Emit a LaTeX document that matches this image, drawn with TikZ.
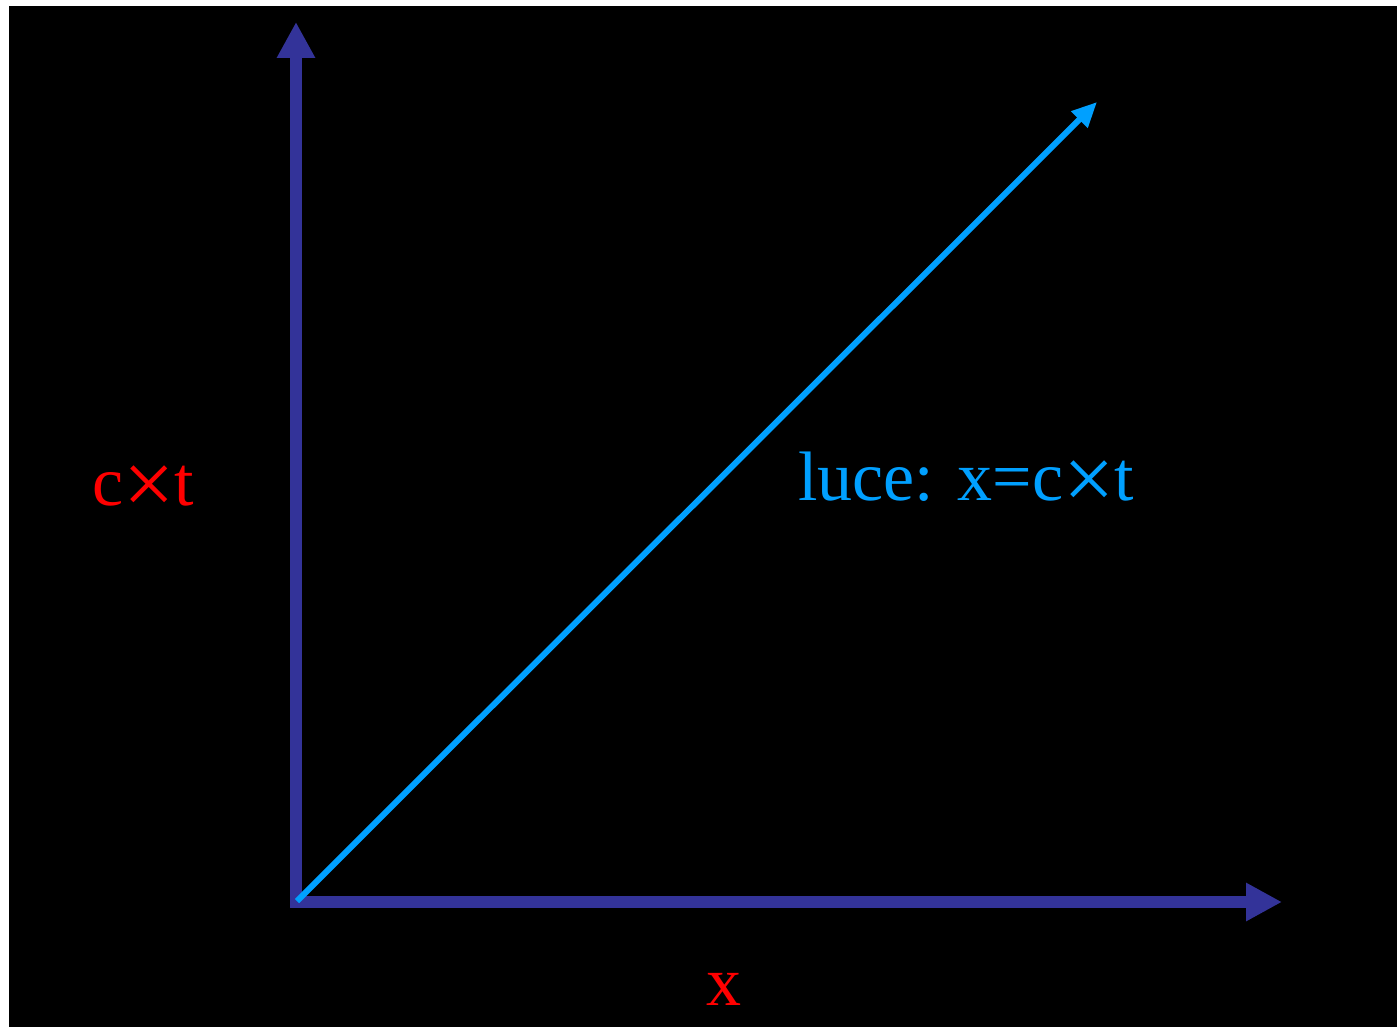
\documentclass[tikz,border=0pt]{standalone}
\usepackage{fontspec}
\usepackage{graphicx}
\setmainfont{Liberation Serif}
\usetikzlibrary{arrows.meta}
\definecolor{axisblue}{RGB}{51,51,153}
\definecolor{lightblue}{RGB}{0,160,255}
\definecolor{labelred}{RGB}{255,0,0}
\newcommand{\bigx}{\raisebox{-9pt}{\scalebox{1.3}{×}}}
\begin{document}
\begin{tikzpicture}[x=1pt,y=-1pt,
  axis/.style={draw=axisblue,line width=12pt,-{Triangle[width=36pt,length=36pt]}},
  ray/.style={draw=lightblue,line width=6pt,-{Triangle[width=22pt,length=25pt]}},
  lbl/.style={font=\fontsize{70}{80}\selectfont,inner sep=0pt}]
\useasboundingbox[fill=white] (0,0) rectangle (1397,1027);
\fill[black] (9,6) rectangle (1397,1027);
\coordinate (o) at (296,908);
\coordinate (ytip) at (296,22);
\coordinate (ox) at (290,902);
\coordinate (xtip) at (1282,902);
\coordinate (rs) at (297,901);
\coordinate (rtip) at (1097,102);
\draw[axis] (o) -- (ytip);
\draw[axis] (ox) -- (xtip);
\draw[ray] (rs) -- (rtip);
\node[lbl,text=labelred,anchor=base] (ct) at (143,505) {c\bigx t};
\node[lbl,text=labelred,anchor=base] (xl) at (724,1005) {x};
\node[lbl,text=lightblue,anchor=base west] (luce) at (798,500) {luce: x=c\bigx t};
\end{tikzpicture}
\end{document}
